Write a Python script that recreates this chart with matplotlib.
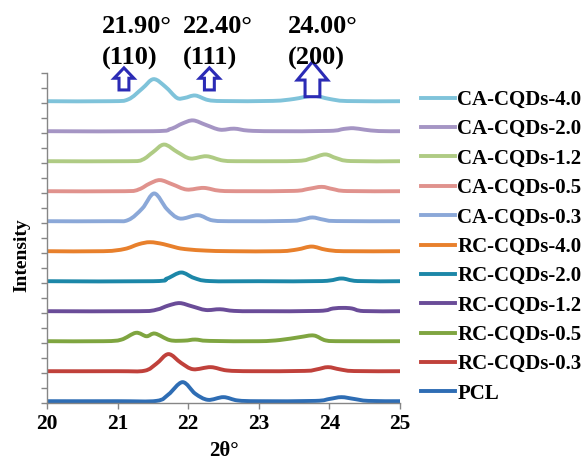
import numpy as np
import matplotlib.pyplot as plt
from matplotlib.path import Path
from matplotlib.patches import PathPatch, FancyArrow
from matplotlib.lines import Line2D

plt.rcParams['font.family'] = ['Liberation Serif', 'DejaVu Serif']
plt.rcParams['font.weight'] = 'bold'

# XRD patterns (2theta, intensity above baseline), bottom to top
names = ['PCL', 'RC-CQDs-0.3', 'RC-CQDs-0.5', 'RC-CQDs-1.2', 'RC-CQDs-2.0',
         'RC-CQDs-4.0', 'CA-CQDs-0.3', 'CA-CQDs-0.5', 'CA-CQDs-1.2',
         'CA-CQDs-2.0', 'CA-CQDs-4.0']

pcl_x = [20, 21.0, 21.55, 21.72, 21.92, 22.1, 22.28, 22.5, 22.7, 23.0, 23.8, 24.0, 24.17, 24.35, 24.55, 25]
pcl_y = [0, 0, 0.02, 0.45, 1.27, 0.5, 0.09, 0.27, 0.05, 0, 0.02, 0.15, 0.27, 0.15, 0.02, 0]

rc03_x = [20, 21.0, 21.38, 21.55, 21.72, 21.9, 22.07, 22.32, 22.55, 22.9, 23.65, 23.82, 23.98, 24.15, 24.35, 25]
rc03_y = [0, 0, 0.03, 0.5, 1.14, 0.55, 0.13, 0.27, 0.05, 0, 0.02, 0.12, 0.27, 0.12, 0.01, 0]

rc05_x = [20, 20.8, 21.05, 21.26, 21.41, 21.53, 21.74, 21.95, 22.1, 22.3, 23.0, 23.3, 23.58, 23.78, 23.95, 24.2, 25]
rc05_y = [0, 0, 0.1, 0.56, 0.33, 0.51, 0.07, 0.04, 0.11, 0.02, 0, 0.08, 0.27, 0.38, 0.05, 0, 0]

rc12_x = [20, 21.3, 21.55, 21.72, 21.88, 22.05, 22.25, 22.45, 22.65, 23.0, 23.85, 24.05, 24.2, 24.32, 24.48, 25]
rc12_y = [0, 0, 0.1, 0.38, 0.54, 0.33, 0.08, 0.13, 0.02, 0, 0.02, 0.18, 0.22, 0.18, 0.01, 0]

rc20_x = [20, 21.5, 21.7, 21.9, 22.08, 22.3, 23.0, 23.9, 24.17, 24.4, 25]
rc20_y = [0, 0, 0.18, 0.58, 0.22, 0.01, 0, 0.01, 0.18, 0.01, 0]

rc40_x = [20, 20.8, 21.1, 21.3, 21.46, 21.65, 21.85, 22.0, 22.25, 22.6, 23.3, 23.55, 23.75, 23.95, 24.2, 25]
rc40_y = [0, 0, 0.15, 0.47, 0.6, 0.47, 0.22, 0.12, 0.04, 0, 0, 0.12, 0.31, 0.1, 0, 0]

ca03_x = [20, 20.9, 21.15, 21.35, 21.52, 21.7, 21.88, 22.14, 22.35, 22.7, 23.45, 23.62, 23.76, 23.92, 24.1, 25]
ca03_y = [0, 0, 0.08, 0.85, 1.85, 0.8, 0.18, 0.4, 0.05, 0, 0.02, 0.12, 0.25, 0.1, 0.01, 0]

ca05_x = [20, 21.1, 21.3, 21.45, 21.6, 21.78, 21.98, 22.22, 22.45, 22.8, 23.5, 23.7, 23.89, 24.05, 24.25, 25]
ca05_y = [0, 0, 0.12, 0.5, 0.74, 0.45, 0.11, 0.22, 0.03, 0, 0.02, 0.15, 0.29, 0.14, 0.01, 0]

ca12_x = [20, 21.15, 21.35, 21.5, 21.66, 21.85, 22.03, 22.26, 22.5, 22.8, 23.55, 23.75, 23.94, 24.1, 24.3, 25]
ca12_y = [0, 0, 0.1, 0.6, 1.11, 0.6, 0.18, 0.33, 0.04, 0, 0.02, 0.2, 0.45, 0.2, 0.01, 0]

ca20_x = [20, 21.5, 21.75, 21.92, 22.07, 22.25, 22.45, 22.65, 22.85, 23.2, 24.0, 24.2, 24.34, 24.5, 24.7, 25]
ca20_y = [0, 0, 0.15, 0.52, 0.72, 0.42, 0.1, 0.17, 0.04, 0, 0.02, 0.15, 0.2, 0.1, 0.01, 0]

ca40_x = [20, 20.9, 21.15, 21.35, 21.51, 21.68, 21.84, 21.95, 22.1, 22.28, 22.5, 23.2, 23.5, 23.77, 24.0, 24.25, 25]
ca40_y = [0, 0, 0.12, 0.85, 1.47, 0.95, 0.22, 0.22, 0.38, 0.08, 0.01, 0.02, 0.15, 0.36, 0.15, 0.01, 0]

xs = [pcl_x, rc03_x, rc05_x, rc12_x, rc20_x, rc40_x, ca03_x, ca05_x, ca12_x, ca20_x, ca40_x]
ys = [pcl_y, rc03_y, rc05_y, rc12_y, rc20_y, rc40_y, ca03_y, ca05_y, ca12_y, ca20_y, ca40_y]

colors = ['#2E6DB4', '#C0413B', '#7FA540', '#6A4C98', '#1C87A8', '#E8802C',
          '#8BA8D8', '#E0928D', '#AFCB84', '#A595C4', '#7FC3DA']

peak_angles = ['21.90°', '22.40°', '24.00°']
planes = ['(110)', '(111)', '(200)']
arrow_x = [21.09, 22.30, 23.76]

x_ticks = [20, 21, 22, 23, 24, 25]


def smooth_path(x, y):
    # smoothed line through the points (Catmull-Rom as cubic Bezier)
    pts = np.column_stack([x, y])
    n = len(pts)
    verts = [pts[0]]
    codes = [Path.MOVETO]
    for i in range(n - 1):
        p0 = pts[i - 1] if i > 0 else pts[i]
        p1 = pts[i]
        p2 = pts[i + 1]
        p3 = pts[i + 2] if i + 2 < n else pts[i + 1]
        verts += [p1 + (p2 - p0) / 6, p2 - (p3 - p1) / 6, p2]
        codes += [Path.CURVE4] * 3
    return Path(verts, codes)


fig = plt.figure(figsize=(5.85, 4.62), dpi=100)
ax = fig.add_axes([47 / 585, 1 - 403 / 462, 353 / 585, 330 / 462])

step = 2.0
base = 0.12
handles = []
for i, (x, y, c, name) in enumerate(zip(xs, ys, colors, names)):
    yy = np.array(y) + base + step * i
    ax.add_patch(PathPatch(smooth_path(x, yy), fill=False, ec=c, lw=2.8,
                           capstyle='butt', joinstyle='round'))
    handles.append(Line2D([], [], color=c, lw=2.8, label=name))

ax.set_xlim(20, 25)
ax.set_ylim(0, 22)
ax.set_xticks(x_ticks)
ax.set_xticklabels([str(t) for t in x_ticks], fontsize=15.5, fontweight='bold')
ax.set_yticks(np.arange(0, 23, 1))
ax.set_yticklabels([])
ax.tick_params(direction='out', length=4, width=1, color='#868686', pad=4)
for side in ['top', 'right']:
    ax.spines[side].set_visible(False)
for side in ['left', 'bottom']:
    ax.spines[side].set_color('#868686')
    ax.spines[side].set_linewidth(1)

fig.text(223.5 / 585, 1 - 451 / 462, '2θ°', ha='center', va='center', fontsize=15, fontweight='bold')
fig.text(22 / 585, 1 - 255 / 462, 'Intensity', ha='center', va='center', rotation=90,
         fontsize=14, fontweight='bold')

# peak position markers above the plot
arrow_sizes = [(20.87, 1.47, 0.14, 0.28, 0.69),
               (20.87, 1.47, 0.14, 0.28, 0.69),
               (20.42, 2.33, 0.21, 0.43, 1.22)]
for ax_x, (y0, length, w, hw, hl) in zip(arrow_x, arrow_sizes):
    ax.add_patch(FancyArrow(ax_x, y0, 0, length, width=w, head_width=hw, head_length=hl,
                            length_includes_head=True, fc='white', ec='#2B2BB5', lw=2.2,
                            clip_on=False))

text_left = [101.7, 183.3, 288.3]
for lx, ang, pl in zip(text_left, peak_angles, planes):
    fig.text(lx / 585, 1 - 33.3 / 462, ang, ha='left', va='baseline', fontsize=19, fontweight='bold')
    fig.text(lx / 585, 1 - 65 / 462, pl, ha='left', va='baseline', fontsize=19, fontweight='bold')

fig.legend(handles=handles[::-1], loc='upper left', bbox_to_anchor=(421 / 585, 1 - 90 / 462),
           frameon=False, fontsize=15, handlelength=1.65, handletextpad=0.1,
           labelspacing=0.45, borderpad=0, borderaxespad=0)

fig.savefig('out.png', dpi=100)
